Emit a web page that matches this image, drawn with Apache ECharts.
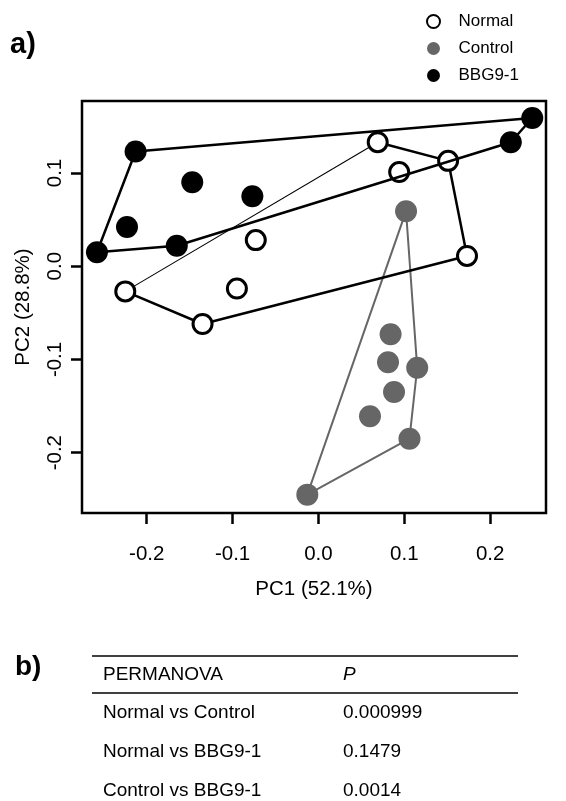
<!DOCTYPE html>
<html>
<head>
<meta charset="utf-8">
<script src="https://cdn.jsdelivr.net/npm/echarts@6/dist/echarts.min.js"></script>
<style>
  html, body { margin: 0; padding: 0; background: #fff; }
  #main { width: 566px; height: 801px; }
</style>
</head>
<body>
<div id="main"></div>
<script>
// PCoA scores
const normalX = [0.069, 0.094, 0.151, 0.173, -0.073, -0.225, -0.095, -0.135]
const normalY = [0.133, 0.101, 0.113, 0.011, 0.028, -0.027, -0.024, -0.062]
const controlX = [0.102, 0.084, 0.081, 0.115, 0.088, 0.060, 0.106, -0.013]
const controlY = [0.059, -0.073, -0.103, -0.109, -0.135, -0.161, -0.185, -0.245]
const bbgX = [-0.213, -0.147, -0.077, -0.223, -0.258, -0.165, 0.249, 0.224]
const bbgY = [0.123, 0.090, 0.075, 0.042, 0.015, 0.022, 0.159, 0.133]

// hull outlines (indices into the arrays above)
const normalHull = [0, 2, 3, 7, 5]
const normalThinEdge = [5, 0]
const controlHull = [7, 0, 3, 6, 7]
const bbgHull = [4, 0, 6, 7, 5, 4]

const xTicks = [-0.2, -0.1, 0.0, 0.1, 0.2]
const yTicks = [-0.2, -0.1, 0.0, 0.1]

const groupNames = ['Normal', 'Control', 'BBG9-1']

// PERMANOVA table
const tableHeader = ['PERMANOVA', 'P']
const tableRows = ['Normal vs Control', 'Normal vs BBG9-1', 'Control vs BBG9-1']
const tableP = ['0.000999', '0.1479', '0.0014']

const FONT = '"Liberation Sans", Arial, Helvetica, sans-serif'
const GREY = '#666666'

const pts = (xs, ys) => xs.map((x, i) => [x, ys[i]])
const path = (xs, ys, idx) => idx.map((i) => [xs[i], ys[i]])

const hullLine = (name, data, color, width) => ({
  name: name,
  type: 'line',
  data: data,
  showSymbol: false,
  symbol: 'none',
  silent: true,
  lineStyle: { color: color, width: width },
  z: 2
})

const myChart = echarts.init(document.getElementById('main'), null, { renderer: 'canvas' })

// table graphics
const tableGraphics = []
const ruleLeft = 92
const ruleRight = 518
const col1 = 103
const col2 = 343
const rowYs = [713, 752, 791]
tableGraphics.push({
  type: 'line', shape: { x1: ruleLeft, y1: 656, x2: ruleRight, y2: 656 },
  style: { stroke: '#000', lineWidth: 1.5 }
})
tableGraphics.push({
  type: 'line', shape: { x1: ruleLeft, y1: 693, x2: ruleRight, y2: 693 },
  style: { stroke: '#000', lineWidth: 1.5 }
})
tableGraphics.push({
  type: 'text', x: col1, y: 675,
  style: { text: tableHeader[0], font: '19px ' + FONT, fill: '#000', verticalAlign: 'middle' }
})
tableGraphics.push({
  type: 'text', x: col2, y: 675,
  style: { text: tableHeader[1], font: 'italic 19px ' + FONT, fill: '#000', verticalAlign: 'middle' }
})
tableRows.forEach((label, i) => {
  tableGraphics.push({
    type: 'text', x: col1, y: rowYs[i],
    style: { text: label, font: '19px ' + FONT, fill: '#000', verticalAlign: 'middle' }
  })
  tableGraphics.push({
    type: 'text', x: col2, y: rowYs[i],
    style: { text: tableP[i], font: '19px ' + FONT, fill: '#000', verticalAlign: 'middle' }
  })
})

const option = {
  animation: false,
  backgroundColor: '#fff',
  textStyle: { fontFamily: FONT },
  grid: {
    left: 82,
    top: 101,
    width: 464,
    height: 412,
    show: true,
    borderColor: '#000',
    borderWidth: 2.5,
    backgroundColor: 'transparent'
  },
  legend: {
    data: groupNames,
    orient: 'vertical',
    left: 421,
    top: 8,
    itemWidth: 40,
    itemHeight: 13,
    itemGap: 10,
    icon: 'circle',
    textStyle: { fontSize: 17, color: '#000', fontFamily: FONT, lineHeight: 17 },
    selectedMode: false
  },
  xAxis: {
    type: 'value',
    min: -0.2754,
    max: 0.265,
    axisLine: { show: false, onZero: false },
    splitLine: { show: false },
    axisTick: {
      show: true, inside: false, length: 11,
      customValues: xTicks,
      lineStyle: { color: '#000', width: 2.5 }
    },
    axisLabel: {
      customValues: xTicks,
      margin: 31,
      fontSize: 20.5,
      color: '#000',
      fontFamily: FONT,
      formatter: (v) => v.toFixed(1)
    },
    name: 'PC1 (52.1%)',
    nameLocation: 'middle',
    nameGap: 66,
    nameTextStyle: { fontSize: 20.5, color: '#000', fontFamily: FONT }
  },
  yAxis: {
    type: 'value',
    min: -0.2647,
    max: 0.1772,
    axisLine: { show: false, onZero: false },
    splitLine: { show: false },
    axisTick: {
      show: true, inside: false, length: 11,
      customValues: yTicks,
      lineStyle: { color: '#000', width: 2.5 }
    },
    axisLabel: {
      customValues: yTicks,
      rotate: 90,
      margin: 16,
      fontSize: 20.5,
      color: '#000',
      fontFamily: FONT,
      formatter: (v) => v.toFixed(1)
    },
    name: 'PC2 (28.8%)',
    nameLocation: 'middle',
    nameGap: 48,
    nameRotate: 90,
    nameTextStyle: { fontSize: 20.5, color: '#000', fontFamily: FONT }
  },
  graphic: [
    {
      type: 'text', left: 10, top: 30,
      style: { text: 'a)', font: 'bold 29px ' + FONT, fill: '#000' }
    },
    {
      type: 'text', left: 15, top: 653,
      style: { text: 'b)', font: 'bold 28px ' + FONT, fill: '#000' }
    }
  ].concat(tableGraphics),
  series: [
    hullLine('controlHull', path(controlX, controlY, controlHull), GREY, 2),
    hullLine('normalHull', path(normalX, normalY, normalHull), '#000', 2.5),
    hullLine('normalThin', path(normalX, normalY, normalThinEdge), '#000', 1.1),
    {
      name: 'Normal',
      type: 'scatter',
      data: pts(normalX, normalY),
      symbolSize: 19,
      itemStyle: { color: '#fff', borderColor: '#000', borderWidth: 3, opacity: 1 },
      z: 3
    },
    {
      name: 'Control',
      type: 'scatter',
      data: pts(controlX, controlY),
      symbolSize: 22,
      itemStyle: { color: GREY, opacity: 1 },
      z: 3
    },
    {
      name: 'BBG9-1',
      type: 'scatter',
      data: pts(bbgX, bbgY),
      symbolSize: 22,
      itemStyle: { color: '#000', opacity: 1 },
      z: 3
    },
    Object.assign(hullLine('bbgHull', path(bbgX, bbgY, bbgHull), '#000', 2.5), { z: 4 })
  ]
}

myChart.setOption(option)
</script>
</body>
</html>
